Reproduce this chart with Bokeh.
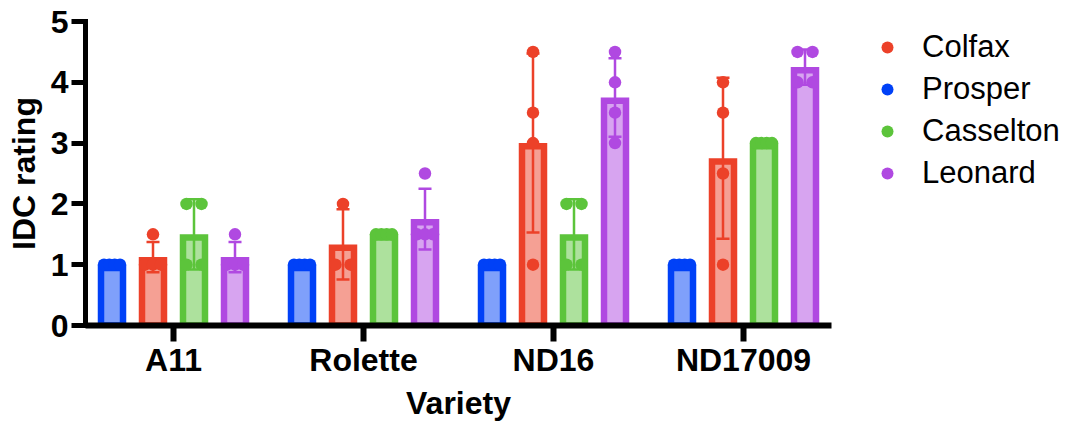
import numpy as np
from bokeh.plotting import figure
from bokeh.models import ColumnDataSource, FixedTicker, Legend, LegendItem, Range1d
from bokeh.embed import file_html
from bokeh.resources import INLINE

# ---------------- data ----------------
varieties = ["A11", "Rolette", "ND16", "ND17009"]
bar_order = ["Prosper", "Colfax", "Casselton", "Leonard"]
legend_order = ["Colfax", "Prosper", "Casselton", "Leonard"]

prosper = [[1, 1, 1, 1], [1, 1, 1, 1], [1, 1, 1, 1], [1, 1, 1, 1]]
colfax = [[1.5, 1, 1, 1], [2, 1, 1], [4.5, 3.5, 3, 1], [4, 3.5, 2.5, 1]]
casselton = [[2, 2, 1, 1], [1.5, 1.5, 1.5, 1.5], [2, 2, 1, 1], [3, 3, 3, 3]]
leonard = [[1.5, 1, 1, 1], [2.5, 1.5, 1.5, 1.5], [4.5, 4, 3.5, 3], [4.5, 4.5, 4, 4]]

y_ticks = [0, 1, 2, 3, 4, 5]
y_label = "IDC rating"
x_label = "Variety"

replicates = {"Prosper": prosper, "Colfax": colfax, "Casselton": casselton, "Leonard": leonard}
colors = {"Colfax": "#EC4129", "Prosper": "#0041F7", "Casselton": "#5CC43B", "Leonard": "#B049E1"}

# ---------------- styling / geometry ----------------
FONT = "Liberation Sans"
PX = 1.0 / 190.0          # one screen pixel in x data units
PY = 5.0 / 304.0          # one screen pixel in y data units
BAR_STEP = 41 * PX
BAR_W = 22 * PX
CAP_W = 13 * PX
LW = 6.5                  # bar outline width (px), drawn inside the bar

p = figure(frame_width=746, frame_height=304,
           x_range=Range1d(-88 * PX, 3 + 88 * PX), y_range=Range1d(0, 5),
           output_backend="svg", toolbar_location=None,
           min_border_left=85, min_border_right=225,
           min_border_top=21, min_border_bottom=0)
p.outline_line_color = None
p.xgrid.visible = False
p.ygrid.visible = False
p.background_fill_color = "white"
p.border_fill_color = "white"

dot_renderers = {}
for si, name in enumerate(bar_order):
    col = colors[name]
    off = (si - 1.5) * BAR_STEP
    xs, means, sds = [], [], []
    for gi, vals in enumerate(replicates[name]):
        a = np.array(vals, dtype=float)
        xs.append(gi + off)
        means.append(a.mean())
        sds.append(a.std(ddof=1) if len(a) > 1 else 0.0)
    xs = np.array(xs); means = np.array(means); sds = np.array(sds)

    p.vbar(x=xs, top=means - (LW / 2) * PY, bottom=0, width=BAR_W,
           fill_color=col, fill_alpha=0.5, line_color=col, line_width=LW,
           line_join="miter")

    # error bars (mean +/- SD)
    m = sds > 0
    lo = means[m] - sds[m]
    hi = means[m] + sds[m]
    xe = xs[m]
    p.segment(x0=xe, y0=lo, x1=xe, y1=hi, line_color=col, line_width=2.5)
    p.segment(x0=xe - CAP_W / 2, y0=hi, x1=xe + CAP_W / 2, y1=hi, line_color=col, line_width=2.5)
    p.segment(x0=xe - CAP_W / 2, y0=lo, x1=xe + CAP_W / 2, y1=lo, line_color=col, line_width=2.5)

    # individual points, identical values spread sideways
    dx, dy = [], []
    for gi, vals in enumerate(replicates[name]):
        uniq = {}
        for v in vals:
            uniq[v] = uniq.get(v, 0) + 1
        for v, k in uniq.items():
            if k == 1:
                step = 0
            elif k == 2:
                step = 15
            else:
                step = 16.0 / (k - 1)
            for j in range(k):
                dx.append(gi + off + (j - (k - 1) / 2.0) * step * PX)
                dy.append(v)
    r = p.scatter(x=dx, y=dy, size=12.5, marker="circle", fill_color=col, line_color=col, line_width=0)
    dot_renderers[name] = r

# ---------------- axes ----------------
xa = p.xaxis[0]
xa.ticker = FixedTicker(ticks=list(range(len(varieties))))
xa.major_label_overrides = {i: v for i, v in enumerate(varieties)}
xa.axis_label = x_label
ya = p.yaxis[0]
ya.ticker = FixedTicker(ticks=y_ticks)
ya.axis_label = y_label

for ax in (xa, ya):
    ax.axis_line_color = "black"
    ax.major_tick_line_color = "black"
    ax.minor_tick_line_color = None
    ax.major_tick_in = 0
    ax.major_label_text_font = FONT
    ax.major_label_text_font_style = "bold"
    ax.major_label_text_font_size = "32px"
    ax.major_label_text_color = "black"
    ax.axis_label_text_font = FONT
    ax.axis_label_text_font_style = "bold"
    ax.axis_label_text_font_size = "32px"
    ax.axis_label_text_color = "black"

xa.axis_line_width = 6
xa.major_tick_line_width = 6
xa.major_tick_out = 16
xa.major_label_standoff = 0
xa.axis_label_standoff = 4

ya.axis_line_width = 5
ya.axis_line_cap = "square"
ya.major_tick_line_width = 5
ya.major_tick_out = 14
ya.major_label_standoff = 3
ya.axis_label_standoff = 6

# ---------------- legend ----------------
legend = Legend(items=[LegendItem(label=n, renderers=[dot_renderers[n]]) for n in legend_order],
                location=(41, 134))
legend.border_line_color = None
legend.background_fill_alpha = 0
legend.padding = 0
legend.margin = 0
legend.spacing = 6
legend.glyph_width = 30
legend.glyph_height = 36
legend.label_height = 36
legend.label_standoff = 20
legend.label_text_font = FONT
legend.label_text_font_size = "31px"
legend.label_text_color = "black"
p.add_layout(legend, "right")

open("out.html", "w").write(file_html(p, INLINE))
